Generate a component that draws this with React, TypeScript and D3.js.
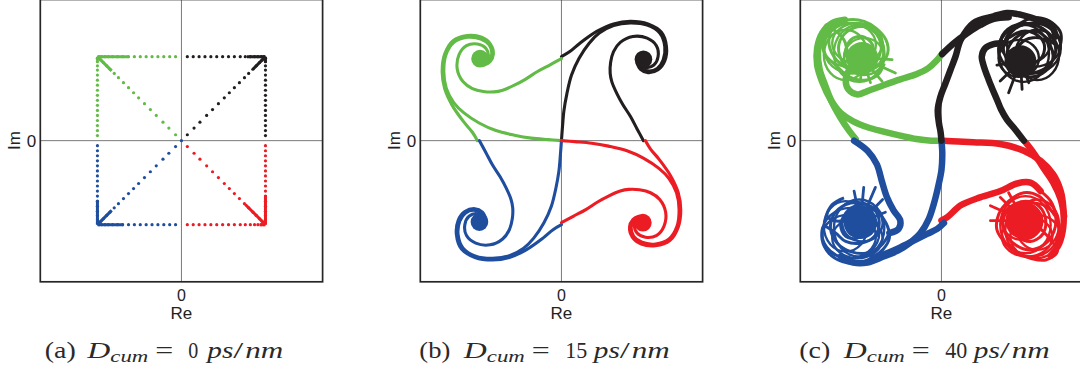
import React from 'react';
import * as d3 from 'd3';

type Pt = [number, number];

// QPSK symbols I..IV: colour and ideal position
const symbolColors = ['#231f20', '#62bb46', '#1f4e9f', '#ec1c24'];
const symbolCorners: Pt[] = [[1, 1], [-1, 1], [-1, -1], [1, -1]];

// Panel captions
const panelLetters = ['a', 'b', 'c'];
const dcumValues = [0, 15, 40];

// (a) samples along each transition, as fraction of the way towards the symbol
const aRowSteps = [0.07, 0.14, 0.21, 0.28, 0.35, 0.42, 0.49, 0.56, 0.63, 0.7, 0.76, 0.82, 0.87, 0.91, 0.95, 0.98];
const aColSteps = [0.06, 0.12, 0.18, 0.24, 0.3, 0.36, 0.42, 0.48, 0.54, 0.6, 0.66, 0.72, 0.78, 0.84, 0.89, 0.94, 0.98];
const aDiagSteps = [0.07, 0.15, 0.22, 0.3, 0.37, 0.44, 0.51, 0.57, 0.63, 0.69, 0.75, 0.8, 0.85, 0.89, 0.93, 0.96];
// where the samples pile up into a continuous run, per symbol
const aRowSolid = [0.78, 0.63, 0.69, 0.93];
const aColSolid = [0.93, 0.95, 0.71, 0.65];
const aDiagSolid = [0.85, 0.83, 0.83, 0.76];

// (b) trajectories ending on symbol I; the other symbols are quarter turns of these
const bFromCentre: Pt[] = [[0, 0], [0.012, 0.16], [0.03, 0.36], [0.065, 0.56], [0.12, 0.78], [0.21, 0.98], [0.33, 1.16], [0.45, 1.28], [0.62, 1.37], [0.82, 1.4], [1.02, 1.375], [1.17, 1.28], [1.23, 1.12], [1.21, 0.96], [1.14, 0.86], [1.03, 0.83], [0.95, 0.87], [0.92, 0.93]];
const bFromTop: Pt[] = [[0, 1.0], [0.1, 1.06], [0.22, 1.16], [0.42, 1.3], [0.62, 1.39], [0.82, 1.42], [1.03, 1.39], [1.19, 1.29], [1.25, 1.12], [1.23, 0.95], [1.15, 0.845], [1.03, 0.81], [0.94, 0.85], [0.9, 0.92]];
const bFromSide: Pt[] = [[0.976, 0], [0.9, 0.14], [0.82, 0.29], [0.73, 0.43], [0.66, 0.56], [0.6, 0.7], [0.58, 0.8], [0.585, 0.93], [0.62, 1.06], [0.7, 1.17], [0.85, 1.24], [1.02, 1.22], [1.13, 1.13], [1.15, 1.0], [1.1, 0.9], [1.0, 0.87], [0.95, 0.9]];
const bCore: Pt = [0.976, 0.969];
const bCoreRadius = 0.105;

// (c) noisy trajectories, per symbol
const cBlackTrunks: Pt[][] = [
  [[0, 0], [-0.01, 0.1], [-0.03, 0.21], [-0.044, 0.365], [-0.012, 0.524], [0.048, 0.683], [0.107, 0.841], [0.167, 1.0], [0.23, 1.2], [0.38, 1.4], [0.62, 1.48], [0.78, 1.52], [0.94, 1.5], [1.14, 1.44], [1.3, 1.38], [1.36, 1.24]],
  [[0.008, 1.03], [0.147, 1.159], [0.306, 1.278], [0.464, 1.377], [0.623, 1.45], [0.8, 1.47]],
  [[0.98, 0.0], [0.88, 0.13], [0.78, 0.25], [0.71, 0.37], [0.66, 0.49], [0.6, 0.63], [0.56, 0.73], [0.5, 0.9], [0.48, 1.0], [0.52, 1.1], [0.62, 1.15], [0.75, 1.16]],
];
const cGreenTrunks: Pt[][] = [
  [[0, 0], [-0.12, 0.0], [-0.3, 0.02], [-0.49, 0.06], [-0.7, 0.11], [-0.88, 0.16], [-1.05, 0.23], [-1.2, 0.33], [-1.32, 0.49], [-1.42, 0.7], [-1.48, 0.9], [-1.48, 1.1], [-1.42, 1.28], [-1.3, 1.4], [-1.15, 1.44]],
  [[-1.02, 0.02], [-1.1, 0.12], [-1.2, 0.27], [-1.3, 0.45], [-1.38, 0.65], [-1.45, 0.85], [-1.47, 1.05], [-1.44, 1.22], [-1.36, 1.36]],
  [[0.01, 1.04], [-0.06, 0.95], [-0.16, 0.86], [-0.3, 0.79], [-0.49, 0.73], [-0.69, 0.66], [-0.88, 0.59], [-1.0, 0.55], [-1.1, 0.6], [-1.14, 0.72], [-1.1, 0.84]],
];
const cBlueTrunks: Pt[][] = [
  [[0, 0], [0.01, -0.15], [0.0, -0.35], [-0.04, -0.55], [-0.09, -0.75], [-0.15, -0.93], [-0.25, -1.1], [-0.38, -1.22], [-0.52, -1.31], [-0.69, -1.38], [-0.88, -1.45], [-1.05, -1.45], [-1.2, -1.38]],
  [[0.03, -0.98], [-0.05, -1.05], [-0.17, -1.11], [-0.33, -1.19], [-0.49, -1.27], [-0.65, -1.34], [-0.82, -1.4]],
  [[-1.04, 0], [-0.88, -0.12], [-0.77, -0.28], [-0.71, -0.48], [-0.65, -0.67], [-0.57, -0.83], [-0.49, -0.95], [-0.51, -1.05], [-0.62, -1.1]],
];
const cRedTrunks: Pt[][] = [
  [[0.02, 0], [0.2, -0.01], [0.38, -0.02], [0.7, -0.04], [0.98, -0.12], [1.18, -0.24], [1.33, -0.4], [1.42, -0.6], [1.45, -0.79], [1.45, -1.03], [1.4, -1.23], [1.3, -1.37]],
  [[1.0, -0.02], [1.1, -0.15], [1.21, -0.32], [1.33, -0.5], [1.42, -0.7], [1.46, -0.9]],
  [[0, -0.95], [0.07, -0.91], [0.23, -0.77], [0.46, -0.675], [0.7, -0.6], [0.9, -0.51], [1.06, -0.5], [1.18, -0.6]],
];
// tangled paths wandering around each symbol
const cBlackTangle: Pt[] = [[0.75, 1.16], [0.82, 1.3], [0.98, 1.38], [1.15, 1.36], [1.3, 1.25], [1.36, 1.08], [1.3, 0.92], [1.15, 0.82], [0.98, 0.8], [0.84, 0.88], [0.78, 1.02], [0.84, 1.18], [0.98, 1.28], [1.14, 1.3], [1.28, 1.2], [1.4, 1.12], [1.42, 1.28], [1.32, 1.4], [1.18, 1.46], [1.02, 1.44], [0.88, 1.36], [0.74, 1.26], [0.68, 1.1], [0.72, 0.95], [0.86, 0.82], [1.02, 0.76], [1.2, 0.8], [1.32, 0.95], [1.3, 1.12], [1.18, 1.22], [1.0, 1.2], [0.9, 1.08], [0.94, 0.96], [1.08, 0.92], [1.2, 1.0], [1.22, 1.16], [1.1, 1.28], [0.95, 1.3], [0.8, 1.22]];
const cGreenTangle: Pt[] = [[-1.1, 0.84], [-1.2, 0.98], [-1.22, 1.15], [-1.12, 1.3], [-0.95, 1.36], [-0.8, 1.3], [-0.7, 1.15], [-0.7, 0.98], [-0.8, 0.86], [-0.96, 0.8], [-1.12, 0.86], [-1.28, 1.0], [-1.34, 1.2], [-1.26, 1.38], [-1.1, 1.44], [-0.92, 1.42], [-0.78, 1.34], [-0.66, 1.2], [-0.64, 1.04], [-0.74, 0.9], [-0.9, 0.84], [-1.06, 0.9], [-1.14, 1.05], [-1.08, 1.2], [-0.94, 1.24], [-0.82, 1.14], [-0.84, 1.0], [-0.98, 0.94], [-1.1, 1.02], [-1.16, 1.2], [-1.3, 1.32], [-1.4, 1.2], [-1.38, 1.02], [-1.26, 0.9], [-1.1, 0.76], [-0.92, 0.72], [-0.76, 0.78], [-0.68, 0.92]];
const cBlueTangle: Pt[] = [[-0.62, -1.1], [-0.72, -1.25], [-0.9, -1.34], [-1.08, -1.32], [-1.24, -1.22], [-1.32, -1.05], [-1.28, -0.88], [-1.14, -0.76], [-0.96, -0.74], [-0.8, -0.82], [-0.74, -0.98], [-0.8, -1.14], [-0.96, -1.22], [-1.14, -1.2], [-1.26, -1.1], [-1.4, -1.02], [-1.42, -1.18], [-1.34, -1.34], [-1.18, -1.44], [-1.0, -1.46], [-0.84, -1.4], [-0.7, -1.3], [-0.62, -1.16], [-0.66, -0.98], [-0.78, -0.84], [-0.96, -0.8], [-1.12, -0.86], [-1.2, -1.0], [-1.14, -1.14], [-1.0, -1.16], [-0.9, -1.06], [-0.94, -0.94], [-1.08, -0.9], [-1.22, -0.96], [-1.36, -0.9], [-1.3, -0.76], [-1.16, -0.68]];
const cRedTangle: Pt[] = [[1.18, -0.6], [1.3, -0.72], [1.36, -0.9], [1.34, -1.08], [1.22, -1.24], [1.04, -1.3], [0.88, -1.24], [0.76, -1.1], [0.74, -0.92], [0.84, -0.78], [1.0, -0.72], [1.16, -0.78], [1.24, -0.94], [1.2, -1.12], [1.06, -1.2], [0.92, -1.14], [0.86, -0.98], [0.94, -0.86], [1.08, -0.86], [1.14, -1.0], [1.3, -1.18], [1.38, -1.32], [1.24, -1.42], [1.06, -1.4], [0.9, -1.34], [0.76, -1.22], [0.66, -1.06], [0.68, -0.88], [0.8, -0.72], [0.98, -0.62], [1.16, -0.66], [1.3, -0.82], [1.4, -1.0], [1.36, -1.2]];
// closed loops inside each tangle: [cx, cy, rx, ry]
const cBlackLoops = [[1.08, 1.1, 0.34, 0.3], [0.98, 1.04, 0.3, 0.34], [1.14, 1.02, 0.26, 0.3], [1.0, 1.16, 0.3, 0.24], [1.1, 1.14, 0.32, 0.26], [0.92, 0.98, 0.24, 0.22]];
const cGreenLoops = [[-1.06, 1.1, 0.34, 0.3], [-0.98, 1.04, 0.3, 0.34], [-1.14, 1.02, 0.26, 0.3], [-1.0, 1.16, 0.3, 0.24], [-1.1, 1.14, 0.32, 0.26], [-0.92, 1.0, 0.24, 0.22]];
const cBlueLoops = [[-1.08, -1.1, 0.34, 0.3], [-0.98, -1.04, 0.3, 0.34], [-1.14, -1.02, 0.26, 0.3], [-1.0, -1.16, 0.3, 0.24], [-1.1, -1.14, 0.32, 0.26], [-0.94, -0.98, 0.24, 0.22]];
const cRedLoops = [[1.08, -1.06, 0.32, 0.32], [1.0, -1.0, 0.3, 0.34], [1.14, -1.0, 0.26, 0.3], [1.02, -1.14, 0.3, 0.24], [1.12, -1.14, 0.3, 0.26], [0.96, -0.96, 0.24, 0.22]];
// short excursions out of each tangle (tip positions)
const cBlackSpikes: Pt[] = [[0.66, 0.9], [0.7, 0.71], [0.8, 0.57], [0.96, 0.61], [1.04, 0.69]];
const cGreenSpikes: Pt[] = [[-0.587, 0.964], [-0.548, 0.806], [-0.706, 0.706], [-0.845, 0.69], [-0.964, 0.706]];
const cBlueSpikes: Pt[] = [[-1.04, -0.6], [-0.925, -0.556], [-0.786, -0.556], [-0.667, -0.853], [-0.7, -0.7]];
const cRedSpikes: Pt[] = [[0.583, -0.774], [0.7, -0.675], [0.583, -0.952], [0.8, -0.62]];
// dense core of each cloud: [x, y, r]
const cCores = [[0.94, 0.944, 0.19], [-0.944, 0.985, 0.19], [-0.964, -0.972, 0.2], [0.98, -0.952, 0.22]];

const cTrunks = [cBlackTrunks, cGreenTrunks, cBlueTrunks, cRedTrunks];
const cTangles = [cBlackTangle, cGreenTangle, cBlueTangle, cRedTangle];
const cLoops = [cBlackLoops, cGreenLoops, cBlueLoops, cRedLoops];
const cSpikes = [cBlackSpikes, cGreenSpikes, cBlueSpikes, cRedSpikes];

const LIM = 1.68;
const BOX = 282.3;
const TOP = -0.5;
const LEFTS = [40.3, 420.3, 800.3];
const SANS = '"Liberation Sans", Arial, sans-serif';
const SERIF = '"Liberation Serif", "Times New Roman", serif';

const quarterTurn = (p: Pt, k: number): Pt => {
  let [a, b] = p;
  for (let i = 0; i < k; i++) [a, b] = [-b, a];
  return [a, b];
};

// caption "(x) D_cum = N ps/nm", laid out piece by piece around its centre
function Caption({ centre, letter, value }: { centre: number; letter: string; value: number }) {
  const txt = String(value);
  const wide = txt.length > 1;
  const ls = wide ? -3.5 : 0;
  const rs = wide ? 6.5 : 0;
  const base = 358;
  const pieces: { t: string; dx: number; w: number; italic?: boolean; size?: number; dy?: number }[] = [
    { t: `(${letter})`, dx: -105 + ls - (wide ? 2 : 0), w: 31 },
    { t: 'D', dx: -66.5 + ls, w: 23, italic: true },
    { t: 'cum', dx: -36 + ls, w: 38, italic: true, size: 17, dy: 4 },
    { t: '=', dx: -1 + ls, w: 18 },
    { t: txt, dx: 28 + (wide ? 3 : 0), w: 10 * txt.length + 2 * (txt.length - 1) },
    { t: 'ps', dx: 55 + rs, w: 26, italic: true },
    { t: '/', dx: 73 + rs, w: 10 },
    { t: 'nm', dx: 99 + rs, w: 38, italic: true },
  ];
  return (
    <g fontFamily={SERIF} fill="#2a2a2a">
      {pieces.map((p, i) => (
        <text
          key={i}
          x={centre + p.dx}
          y={base + (p.dy || 0)}
          fontSize={p.size || 23}
          fontStyle={p.italic ? 'italic' : 'normal'}
          textAnchor="middle"
          textLength={p.w}
          lengthAdjust="spacingAndGlyphs"
        >
          {p.t}
        </text>
      ))}
    </g>
  );
}

export default function App() {
  return (
    <svg width={1080} height={372} style={{ position: 'absolute', left: 0, top: 0, background: '#fff' }}>
      <defs>
        {LEFTS.map((l, i) => (
          <clipPath id={`box${i}`} key={i}>
            <rect x={l} y={TOP} width={BOX} height={BOX} />
          </clipPath>
        ))}
      </defs>
      {LEFTS.map((left, pi) => {
        const x = d3.scaleLinear().domain([-LIM, LIM]).range([left, left + BOX]);
        const y = d3.scaleLinear().domain([-LIM, LIM]).range([TOP + BOX, TOP]);
        const k = x(1) - x(0);
        const line = d3.line<Pt>().x(d => x(d[0])).y(d => y(d[1])).curve(d3.curveCatmullRom.alpha(0.5));
        const cx = x(0), cy = y(0);

        let marks: React.ReactNode = null;
        if (pi === 0) {
          marks = symbolCorners.map(([sx, sy], s) => {
            const col = symbolColors[s];
            const dots: Pt[] = [
              ...aRowSteps.map(f => [sx * f, sy] as Pt),
              ...aColSteps.map(f => [sx, sy * f] as Pt),
              ...aDiagSteps.map(f => [sx * f, sy * f] as Pt),
            ];
            if (s === 2) dots.push([0, 0]);
            const runs: [Pt, Pt][] = [
              [[sx * aRowSolid[s], sy], [sx, sy]],
              [[sx, sy * aColSolid[s]], [sx, sy]],
              [[sx * aDiagSolid[s], sy * aDiagSolid[s]], [sx, sy]],
            ];
            return (
              <g key={s}>
                {dots.map((d, j) => <circle key={j} cx={x(d[0])} cy={y(d[1])} r={1.6} fill={col} />)}
                {runs.map((r, j) => (
                  <line key={j} x1={x(r[0][0])} y1={y(r[0][1])} x2={x(r[1][0])} y2={y(r[1][1])} stroke={col} strokeWidth={3} />
                ))}
              </g>
            );
          });
        } else if (pi === 1) {
          marks = symbolColors.map((col, s) => {
            const paths = [bFromCentre, bFromTop, bFromSide].map(p => p.map(q => quarterTurn(q, s)));
            const core = quarterTurn(bCore, s);
            return (
              <g key={s}>
                {paths.map((p, j) => <path key={j} d={line(p) || ''} fill="none" stroke={col} strokeWidth={3.1} strokeLinecap="round" />)}
                <circle cx={x(core[0])} cy={y(core[1])} r={bCoreRadius * k} fill={col} />
              </g>
            );
          });
        } else {
          marks = [1, 3, 2, 0].map(s => {
            const col = symbolColors[s];
            const [ox, oy, orad] = cCores[s];
            return (
              <g key={s}>
                {cLoops[s].map((l, j) => (
                  <ellipse key={j} cx={x(l[0])} cy={y(l[1])} rx={l[2] * k} ry={l[3] * k} fill="none" stroke={col} strokeWidth={2.4} />
                ))}
                <path d={line(cTangles[s]) || ''} fill="none" stroke={col} strokeWidth={3} strokeLinejoin="round" />
                {cSpikes[s].map((t, j) => (
                  <line key={j} x1={x(ox)} y1={y(oy)} x2={x(t[0])} y2={y(t[1])} stroke={col} strokeWidth={2.8} strokeLinecap="round" />
                ))}
                {cTrunks[s].map((p, j) => (
                  <path key={j} d={line(p) || ''} fill="none" stroke={col} strokeWidth={6.5} strokeLinecap="round" strokeLinejoin="round" />
                ))}
                <circle cx={x(ox)} cy={y(oy)} r={orad * k} fill={col} />
              </g>
            );
          });
        }

        return (
          <g key={pi}>
            <rect x={left} y={TOP} width={BOX} height={BOX} fill="#fff" />
            <line x1={cx} x2={cx} y1={TOP} y2={TOP + BOX} stroke="#7a7a7a" strokeWidth={1} />
            <line x1={left} x2={left + BOX} y1={cy} y2={cy} stroke="#7a7a7a" strokeWidth={1} />
            <g clipPath={`url(#box${pi})`}>{marks}</g>
            <rect x={left} y={TOP} width={BOX} height={BOX} fill="none" stroke="#262626" strokeWidth={1.7} />
            <text x={cx} y={300.5} fontFamily={SANS} fontSize={16} textAnchor="middle" fill="#222">0</text>
            <text x={cx} y={318.5} fontFamily={SANS} fontSize={17} textAnchor="middle" fill="#222">Re</text>
            <text x={left - 4} y={cy + 6} fontFamily={SANS} fontSize={17} textAnchor="end" fill="#222">0</text>
            <text transform={`translate(${left - 20.5},${cy}) rotate(-90)`} fontFamily={SANS} fontSize={17} textAnchor="middle" fill="#222">Im</text>
            <Caption centre={left + 125} letter={panelLetters[pi]} value={dcumValues[pi]} />
          </g>
        );
      })}
    </svg>
  );
}
